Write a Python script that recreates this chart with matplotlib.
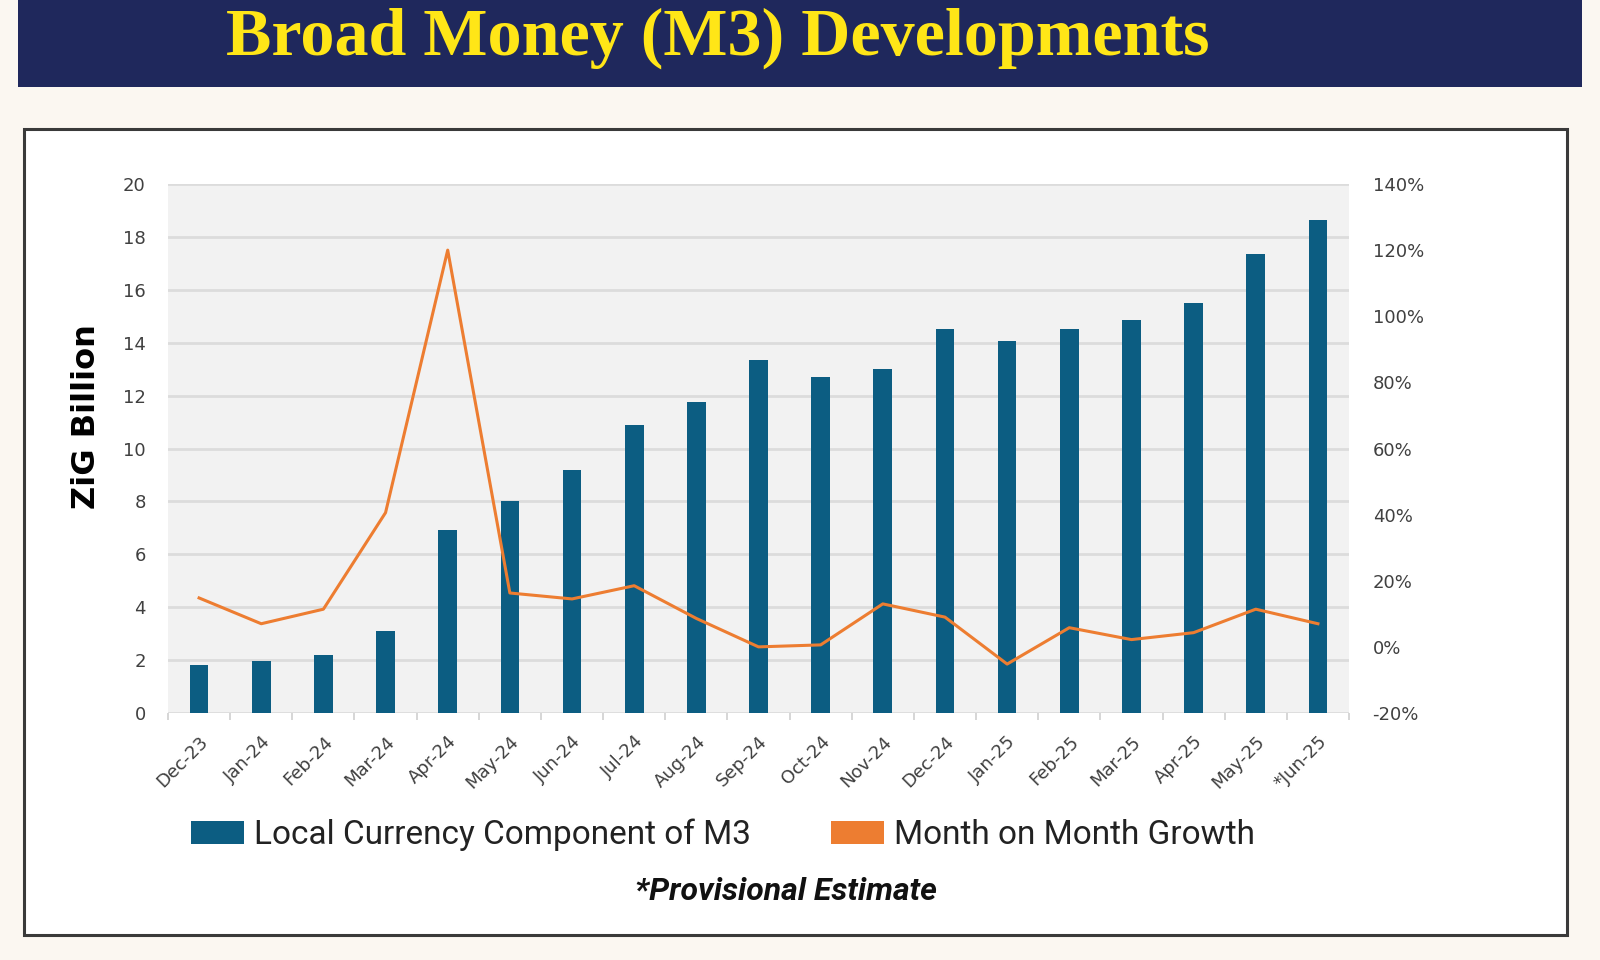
import numpy as np
import matplotlib
matplotlib.use('Agg')
from matplotlib import pyplot as plt
from matplotlib.patches import Rectangle, Patch
from matplotlib.ticker import FuncFormatter, FixedLocator

# data
months = ['Dec-23', 'Jan-24', 'Feb-24', 'Mar-24', 'Apr-24', 'May-24', 'Jun-24',
          'Jul-24', 'Aug-24', 'Sep-24', 'Oct-24', 'Nov-24', 'Dec-24', 'Jan-25',
          'Feb-25', 'Mar-25', 'Apr-25', 'May-25', '*Jun-25']
local_m3 = [1.8, 1.95, 2.2, 3.1, 6.9, 8.0, 9.2, 10.9, 11.75, 13.35, 12.7, 13.0,
            14.5, 14.05, 14.5, 14.85, 15.5, 17.35, 18.65]
mom_growth = [14.8, 7.0, 11.4, 40.6, 120.0, 16.3, 14.5, 18.5, 8.6, 0.0, 0.6, 13.0,
              9.0, -5.2, 5.8, 2.2, 4.3, 11.4, 7.0]

bar_color = '#0c5d82'
line_color = '#ed7d31'
tick_color = '#404040'

fig = plt.figure(figsize=(16, 9.6), dpi=100)
fig.patch.set_facecolor('#fbf7f1')

# title banner
fig.patches.append(Rectangle((18/1600, 1 - 87/960), (1582-18)/1600, 87/960,
                             transform=fig.transFigure, facecolor='#1f285c',
                             edgecolor='none', zorder=-10))
fig.text(718/1600, 1 - 38/960, 'Broad Money (M3) Developments', ha='center', va='center',
         color='#ffe617', fontsize=49, fontweight='bold', family='Liberation Serif')

# white panel
fig.patches.append(Rectangle((24/1600, 1 - 935/960), (1567-24)/1600, (935-129)/960,
                             transform=fig.transFigure, facecolor='white',
                             edgecolor='#3a3a3a', linewidth=2.2, zorder=-10))

ax = fig.add_axes([168/1600, 1 - 713/960, (1349-168)/1600, (713-184)/960])
ax.set_facecolor('#f2f2f2')
x = np.arange(len(months))
ax.bar(x, local_m3, width=0.3, color=bar_color, zorder=3)
ax.set_xlim(-0.5, len(months) - 0.5)
ax.set_ylim(0, 20)
ax.set_yticks(range(0, 21, 2))
ax.grid(axis='y', color='#dcdcdc', linewidth=2, zorder=0)
for s in ax.spines.values():
    s.set_visible(False)
ax.set_xticks(x)
ax.set_xticklabels(months, rotation=45, ha='right', rotation_mode='anchor',
                   fontsize=13, color=tick_color)
ax.tick_params(axis='x', length=0, pad=14)
ax.xaxis.set_minor_locator(FixedLocator(np.arange(-0.5, len(months), 1)))
ax.tick_params(axis='x', which='minor', length=5, color='#d0d0d0', width=1.2)
ax.tick_params(axis='y', length=0, labelsize=13, labelcolor=tick_color, pad=16)
ax.set_ylabel('ZiG Billion', fontsize=23, fontweight='bold', va='center')
ax.yaxis.set_label_coords(-0.069, 0.561)

ax2 = ax.twinx()
ax2.plot(x, mom_growth, color=line_color, linewidth=2.2, zorder=4)
ax2.set_ylim(-20, 140)
ax2.set_yticks(range(-20, 141, 20))
ax2.yaxis.set_major_formatter(FuncFormatter(lambda v, p: f'{v:.0f}%'))
ax2.tick_params(axis='y', length=0, labelsize=13, labelcolor=tick_color, pad=17)
for s in ax2.spines.values():
    s.set_visible(False)

handles = [Patch(facecolor=bar_color, label='Local Currency Component of M3'),
           Patch(facecolor=line_color, label='Month on Month Growth')]
fig.legend(handles=handles, loc='center', bbox_to_anchor=(723/1600, 1 - 835/960),
           ncol=2, frameon=False, prop={'family': 'Roboto', 'size': 24},
           handlelength=1.6, handleheight=0.7, columnspacing=2.4, handletextpad=0.3,
           labelcolor='#222222')

fig.text(786/1600, 1 - 891/960, '*Provisional Estimate', ha='center', va='center',
         fontsize=23, fontweight='bold', fontstyle='italic', family='Roboto',
         color='#111111')

fig.savefig('out.png', dpi=100, facecolor=fig.get_facecolor())
